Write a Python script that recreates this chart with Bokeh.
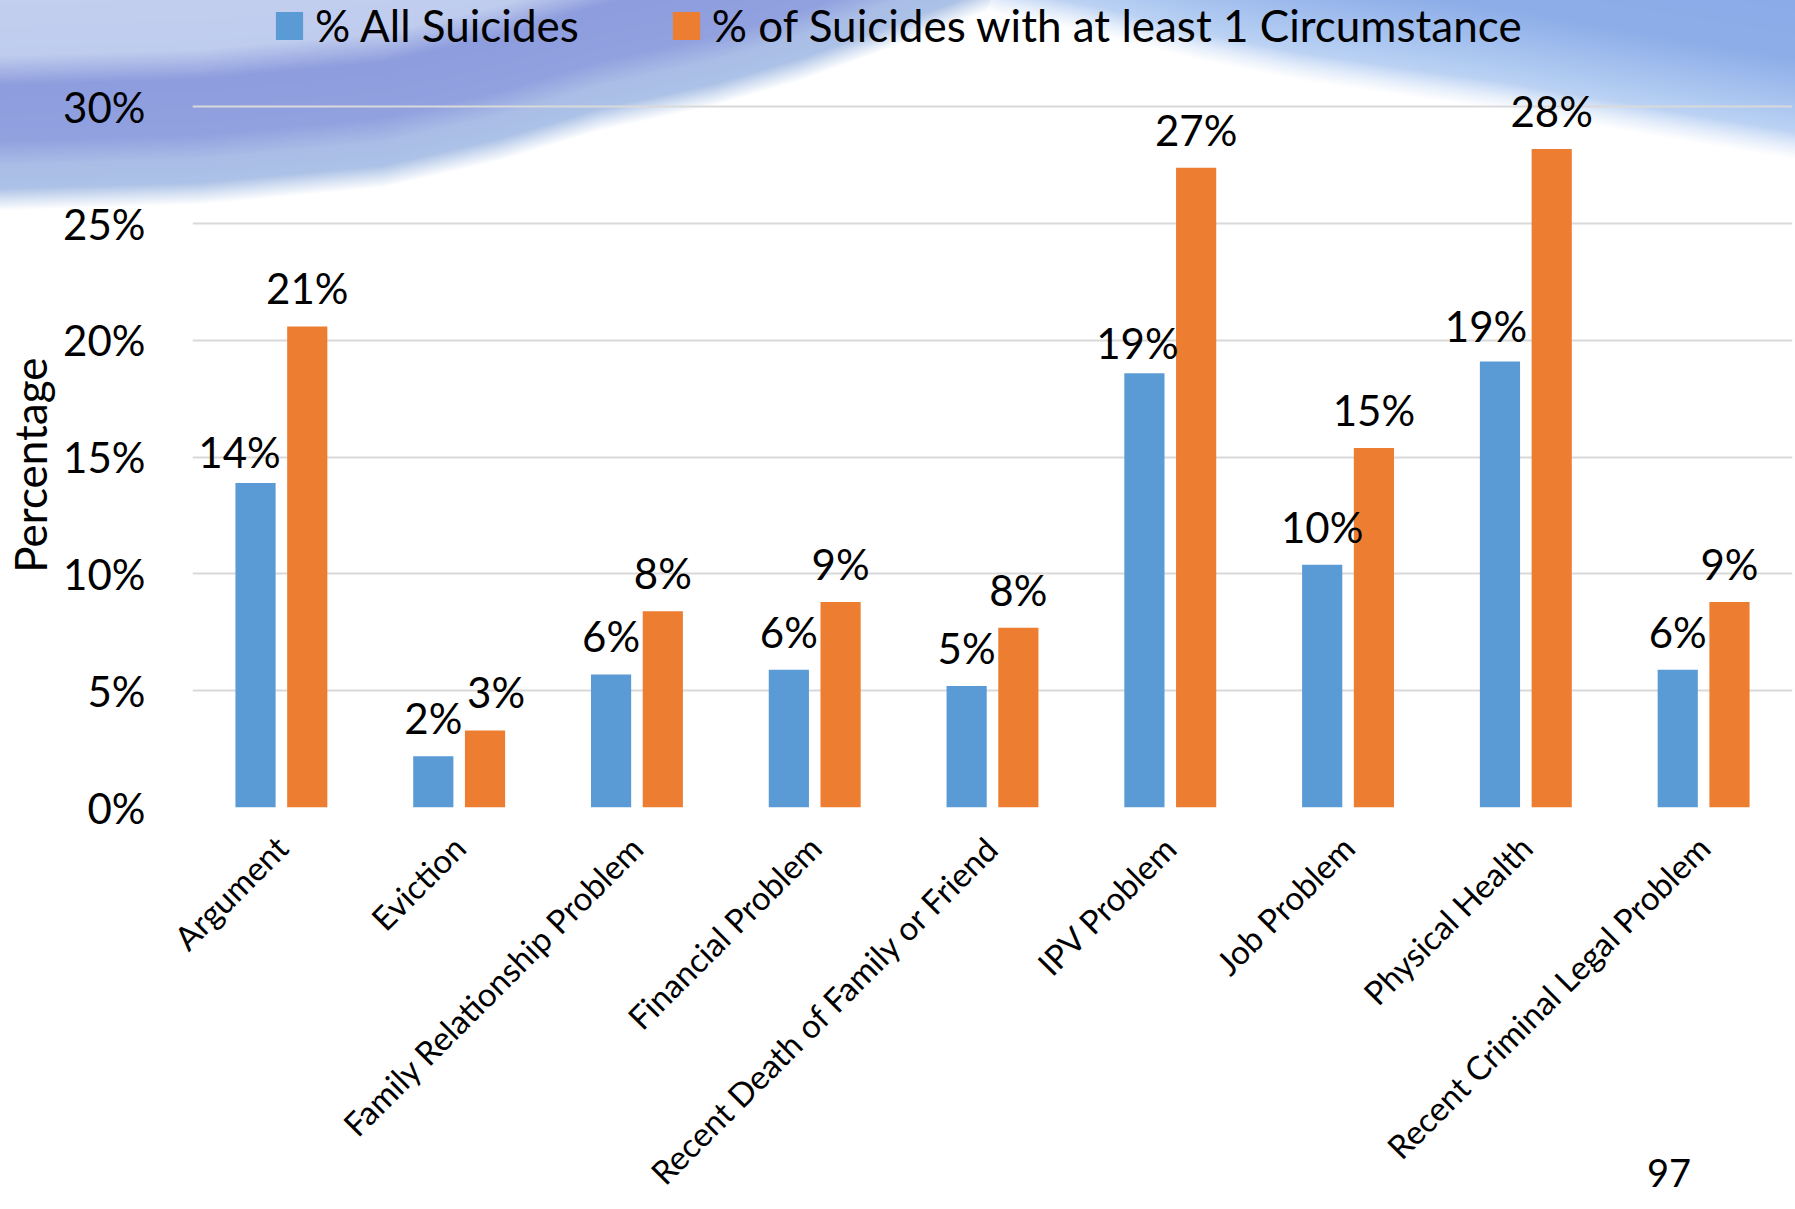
import math
import zlib
import struct
import base64
import numpy as np
from bokeh.plotting import figure
from bokeh.layouts import column
from bokeh.models import (FactorRange, Range1d, FixedTicker, PrintfTickFormatter,
                          Legend, LegendItem, ColumnDataSource, Div)
from bokeh.transform import dodge
from bokeh.core.properties import value
from bokeh.embed import file_html
from bokeh.resources import INLINE

# ---------------- data ----------------
categories = ["Argument", "Eviction", "Family Relationship Problem", "Financial Problem",
              "Recent Death of Family or Friend", "IPV Problem", "Job Problem",
              "Physical Health", "Recent Criminal Legal Problem"]
all_suicides = [13.9, 2.2, 5.7, 5.9, 5.2, 18.6, 10.4, 19.1, 5.9]
with_circumstance = [20.6, 3.3, 8.4, 8.8, 7.7, 27.4, 15.4, 28.2, 8.8]
series_names = ["% All Suicides", "% of Suicides with at least 1 Circumstance"]
y_ticks = [0, 5, 10, 15, 20, 25, 30]
y_title = "Percentage"
page_number = "97"

# label nudges (styling, pixels) to mimic the original's label placement
blue_label_dx = [-16, 0, 0, 0, 0, -7, 0, -14, 0]
blue_label_dy = [7, 0, 0, 0, 0, 8, 0, 3, 0]
orange_label_dx = [0, 11, 0, 0, 0, 0, 0, 0, 0]
orange_label_dy = [0, 0, 0, 0, 0, 0, 0, 0, 0]

BLUE = "#5B9BD5"
ORANGE = "#ED7D31"
FONT = "Lato"

W, H = 1795, 1209
HDR = 66                     # height of the top strip (legend)
FRAME_L, FRAME_R, FRAME_B = 192, 3, 401
PPU = (808 - 106.5) / 30.0   # pixels per percentage point
Y_END = 30 + (106.5 - HDR) / PPU
LBL_GAP = 38

src = ColumnDataSource(dict(
    cat=categories,
    a=all_suicides,
    b=with_circumstance,
    a_lbl=[f"{round(v)}%" for v in all_suicides],
    b_lbl=[f"{round(v)}%" for v in with_circumstance],
    a_dx=blue_label_dx,
    b_dx=orange_label_dx,
    a_dy=[d - LBL_GAP for d in blue_label_dy],
    b_dy=[d - LBL_GAP for d in orange_label_dy],
))


# ---------------- decorative slide background (page art, as CSS image) ----------------
def swoosh_rgb(w, h):
    px = np.arange(w)[None, :].astype(float)
    py = np.arange(h)[:, None].astype(float)
    Lc = np.interp(px, [0, 200, 383, 500, 600, 715, 800, 870, 950, 1000, 1100],
                   [210, 204, 187, 160, 130, 105, 80, 55, 25, 5, -60])
    Rc = np.interp(px, [900, 1000, 1100, 1200, 1300, 1400, 1506, 1650, 1800],
                   [-20, 15, 35, 60, 80, 95, 110, 135, 160])
    dl = Lc - py
    dr = Rc - py
    al = np.clip(dl / 22.0, 0, 1) * 0.95
    ar = np.clip(dr / 28.0, 0, 1) * 0.92
    ls = [0, 45, 70, 125, 155, 400]
    lc = np.array([(172, 196, 231), (165, 186, 229), (140, 156, 222),
                   (136, 152, 220), (188, 202, 237), (205, 214, 240)], float)
    rs = [0, 40, 100, 300]
    rc = np.array([(205, 222, 247), (172, 200, 241), (132, 167, 231),
                   (120, 158, 228)], float)
    col_l = np.stack([np.interp(dl, ls, lc[:, i]) for i in range(3)], axis=-1)
    col_r = np.stack([np.interp(dr, rs, rc[:, i]) for i in range(3)], axis=-1)
    use_l = (al >= ar)[..., None]
    col = np.where(use_l, col_l, col_r)
    a = np.maximum(al, ar)[..., None]
    rgb = col * a + 255.0 * (1 - a)
    return np.ascontiguousarray(np.clip(rgb, 0, 255).astype(np.uint8))


def png_data_url(rgb):
    h, w, _ = rgb.shape
    raw = b"".join(b"\x00" + rgb[i].tobytes() for i in range(h))

    def chunk(tag, data):
        return (struct.pack(">I", len(data)) + tag + data +
                struct.pack(">I", zlib.crc32(tag + data) & 0xFFFFFFFF))

    png = (b"\x89PNG\r\n\x1a\n" +
           chunk(b"IHDR", struct.pack(">IIBBBBB", w, h, 8, 2, 0, 0, 0)) +
           chunk(b"IDAT", zlib.compress(raw, 9)) + chunk(b"IEND", b""))
    return "data:image/png;base64," + base64.b64encode(png).decode()


bg_url = png_data_url(swoosh_rgb(W, 240))

# ---------------- header strip with legend ----------------
hdr = figure(width=W, height=HDR, x_range=Range1d(0, W - FRAME_L - FRAME_R),
             y_range=Range1d(0, HDR), x_axis_type=None, y_axis_type=None,
             output_backend="svg", toolbar_location=None, min_border=0)
hdr.outline_line_color = None
hdr.background_fill_color = None
hdr.border_fill_color = None
hdr.xgrid.visible = False
hdr.ygrid.visible = False
# legend swatches (kept outside the visible range)
k1 = hdr.vbar(x=[-500], top=[1], width=1, fill_color=BLUE, line_color=None)
k2 = hdr.vbar(x=[-500], top=[1], width=1, fill_color=ORANGE, line_color=None)
legend = Legend(items=[LegendItem(label=series_names[0], renderers=[k1]),
                       LegendItem(label=series_names[1], renderers=[k2])],
                orientation="horizontal", location=(80, HDR - 51),
                padding=0, margin=0, spacing=90,
                glyph_width=34, glyph_height=35, label_standoff=9,
                label_text_font=FONT, label_text_font_size="44px",
                label_text_color="black",
                border_line_color=None, background_fill_alpha=0)
hdr.add_layout(legend, "center")

# ---------------- main chart ----------------
p = figure(x_range=FactorRange(*categories, range_padding=0),
           y_range=Range1d(0, Y_END),
           width=W, height=H - HDR, output_backend="svg", toolbar_location=None,
           min_border_left=FRAME_L, min_border_right=FRAME_R, min_border_top=0,
           min_border_bottom=FRAME_B)
p.outline_line_color = None
p.background_fill_color = None
p.border_fill_color = None

bw = 0.226
off = 0.1455
p.vbar(x=dodge("cat", -off, range=p.x_range), top="a", width=bw, source=src,
       fill_color=BLUE, line_color=None)
p.vbar(x=dodge("cat", off, range=p.x_range), top="b", width=bw, source=src,
       fill_color=ORANGE, line_color=None)

lbl_kw = dict(text_font=value(FONT), text_font_size="42px", text_color="black",
              text_align="center", text_baseline="alphabetic", source=src)
p.text(x=dodge("cat", -off, range=p.x_range), y="a", text="a_lbl",
       x_offset="a_dx", y_offset="a_dy", **lbl_kw)
p.text(x=dodge("cat", off, range=p.x_range), y="b", text="b_lbl",
       x_offset="b_dx", y_offset="b_dy", **lbl_kw)

p.xgrid.visible = False
p.ygrid.grid_line_color = "#D9D9D9"
p.ygrid.grid_line_width = 2
p.yaxis.ticker = FixedTicker(ticks=y_ticks)
p.yaxis.formatter = PrintfTickFormatter(format="%d%%")
p.yaxis.axis_line_color = None
p.yaxis.major_tick_line_color = None
p.yaxis.minor_tick_line_color = None
p.yaxis.major_tick_out = 0
p.yaxis.major_tick_in = 0
p.yaxis.major_label_standoff = 47
p.yaxis.major_label_text_font = FONT
p.yaxis.major_label_text_font_size = "42px"
p.yaxis.major_label_text_color = "black"
# trailing no-break spaces centre the title on the 0-30% span, as in the original
p.yaxis.axis_label = y_title + "\u00a0" * 5
p.yaxis.axis_label_text_font = FONT
p.yaxis.axis_label_text_font_size = "44px"
p.yaxis.axis_label_text_font_style = "normal"
p.yaxis.axis_label_text_color = "black"
p.yaxis.axis_label_standoff = 4

p.xaxis.axis_line_color = None
p.xaxis.major_tick_line_color = None
p.xaxis.minor_tick_line_color = None
p.xaxis.major_tick_out = 0
p.xaxis.major_tick_in = 0
p.xaxis.major_label_orientation = math.pi / 4
p.xaxis.major_label_standoff = 34
p.xaxis.major_label_text_font = FONT
p.xaxis.major_label_text_font_size = "33px"
p.xaxis.major_label_text_color = "black"

pg = Div(text=page_number, width=60, height=45,
         styles={"position": "absolute", "left": "1642px", "top": "1148px",
                 "font-family": "Lato", "font-size": "38px", "line-height": "1",
                 "color": "black"})

layout = column(hdr, p, pg, spacing=0,
                styles={"background-color": "white",
                        "background-image": f"url({bg_url})",
                        "background-repeat": "no-repeat",
                        "background-position": "0px 0px"})
open("out.html", "w").write(file_html(layout, INLINE))
